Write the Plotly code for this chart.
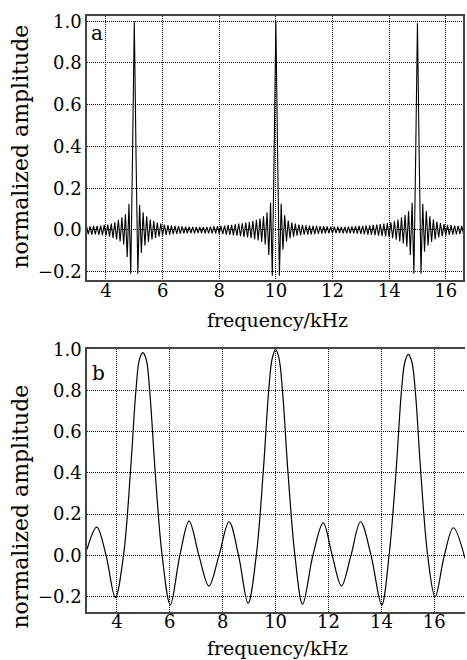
import plotly.graph_objects as go

# ---------------- panel a : sampled spectrum (frequency in kHz) ----------------
freq_a = [
    3.3125, 3.375, 3.4375, 3.5, 3.5625, 3.625, 3.6875, 3.75, 3.8125, 3.875, 3.9375,
    4.0, 4.0625, 4.125, 4.1875, 4.25, 4.3125, 4.375, 4.4375, 4.5, 4.5625, 4.625, 4.6875, 4.75, 4.8125, 4.875, 4.9375,
    5.0, 5.0625, 5.125, 5.1875, 5.25, 5.3125, 5.375, 5.4375, 5.5, 5.5625, 5.625, 5.6875, 5.75, 5.8125, 5.875, 5.9375,
    6.0, 6.0625, 6.125, 6.1875, 6.25, 6.3125, 6.375, 6.4375, 6.5, 6.5625, 6.625, 6.6875, 6.75, 6.8125, 6.875, 6.9375,
    7.0, 7.0625, 7.125, 7.1875, 7.25, 7.3125, 7.375, 7.4375, 7.5, 7.5625, 7.625, 7.6875, 7.75, 7.8125, 7.875, 7.9375,
    8.0, 8.0625, 8.125, 8.1875, 8.25, 8.3125, 8.375, 8.4375, 8.5, 8.5625, 8.625, 8.6875, 8.75, 8.8125, 8.875, 8.9375,
    9.0, 9.0625, 9.125, 9.1875, 9.25, 9.3125, 9.375, 9.4375, 9.5, 9.5625, 9.625, 9.6875, 9.75, 9.8125, 9.875, 9.9375,
    10.0, 10.0625, 10.125, 10.1875, 10.25, 10.3125, 10.375, 10.4375, 10.5, 10.5625, 10.625, 10.6875, 10.75, 10.8125, 10.875, 10.9375,
    11.0, 11.0625, 11.125, 11.1875, 11.25, 11.3125, 11.375, 11.4375, 11.5, 11.5625, 11.625, 11.6875, 11.75, 11.8125, 11.875, 11.9375,
    12.0, 12.0625, 12.125, 12.1875, 12.25, 12.3125, 12.375, 12.4375, 12.5, 12.5625, 12.625, 12.6875, 12.75, 12.8125, 12.875, 12.9375,
    13.0, 13.0625, 13.125, 13.1875, 13.25, 13.3125, 13.375, 13.4375, 13.5, 13.5625, 13.625, 13.6875, 13.75, 13.8125, 13.875, 13.9375,
    14.0, 14.0625, 14.125, 14.1875, 14.25, 14.3125, 14.375, 14.4375, 14.5, 14.5625, 14.625, 14.6875, 14.75, 14.8125, 14.875, 14.9375,
    15.0, 15.0625, 15.125, 15.1875, 15.25, 15.3125, 15.375, 15.4375, 15.5, 15.5625, 15.625, 15.6875, 15.75, 15.8125, 15.875, 15.9375,
    16.0, 16.0625, 16.125, 16.1875, 16.25, 16.3125, 16.375, 16.4375, 16.5, 16.5625, 16.625,
]
amp_a = [
    0.018, -0.020, 0.017, -0.022, 0.019, -0.021, 0.020, -0.024, 0.021, -0.025, 0.024,
    -0.028, 0.026, -0.032, 0.030, -0.038, 0.036, -0.045, 0.048, -0.055, 0.060, -0.070, 0.075, -0.130, 0.125, -0.210, 0.350,
    1.000, 0.350, -0.210, 0.120, -0.110, 0.085, -0.075, 0.065, -0.058, 0.050, -0.046, 0.042, -0.038, 0.035, -0.032, 0.030,
    -0.028, 0.026, -0.025, 0.023, -0.022, 0.021, -0.020, 0.019, -0.019, 0.018, -0.018, 0.017, -0.017, 0.016, -0.016, 0.016,
    -0.015, 0.015, -0.016, 0.014, -0.015, 0.014, -0.015, 0.015, -0.016, 0.015, -0.016, 0.016, -0.017, 0.017, -0.018, 0.018,
    -0.019, 0.019, -0.020, 0.021, -0.022, 0.023, -0.024, 0.025, -0.026, 0.027, -0.028, 0.030, -0.030, 0.032, -0.033, 0.035,
    -0.036, 0.038, -0.040, 0.043, -0.045, 0.048, -0.050, 0.055, -0.058, 0.065, -0.070, 0.085, -0.120, 0.130, -0.220, 0.350,
    1.000, 0.350, -0.220, 0.125, -0.095, 0.070, -0.055, 0.045, -0.040, 0.035, -0.032, 0.030, -0.028, 0.026, -0.025, 0.024,
    -0.023, 0.022, -0.022, 0.021, -0.021, 0.020, -0.020, 0.019, -0.019, 0.018, -0.018, 0.018, -0.017, 0.017, -0.017, 0.016,
    -0.016, 0.016, -0.015, 0.016, -0.015, 0.015, -0.016, 0.015, -0.016, 0.016, -0.016, 0.017, -0.017, 0.018, -0.018, 0.019,
    -0.019, 0.020, -0.020, 0.021, -0.022, 0.022, -0.023, 0.024, -0.025, 0.026, -0.027, 0.028, -0.029, 0.030, -0.031, 0.033,
    -0.035, 0.037, -0.040, 0.043, -0.047, 0.050, -0.055, 0.060, -0.065, 0.072, -0.080, 0.090, -0.120, 0.130, -0.210, 0.350,
    0.990, 0.350, -0.210, 0.125, -0.105, 0.090, -0.075, 0.065, -0.058, 0.050, -0.045, 0.040, -0.036, 0.033, -0.030, 0.028,
    -0.027, 0.025, -0.024, 0.023, -0.022, 0.021, -0.021, 0.020, -0.020, 0.019, -0.019,
]

# ---------------- panel b : smooth spectrum (key points of the curve) ----------------
freq_b = [2.87, 3.24, 3.59, 3.94, 4.25, 4.51, 4.72, 4.85, 4.98, 5.11, 5.24, 5.45, 5.71,
          6.02, 6.38, 6.73, 7.10, 7.48, 7.86, 8.24, 8.60, 8.96,
          9.27, 9.53, 9.74, 9.87, 10.00, 10.13, 10.26, 10.47, 10.73,
          11.02, 11.41, 11.80, 12.14, 12.49, 12.85, 13.21, 13.61, 14.01,
          14.29, 14.55, 14.76, 14.89, 15.02, 15.15, 15.28, 15.49, 15.75,
          16.03, 16.38, 16.72, 17.16]
amp_b = [0.029, 0.137, 0.0, -0.205, 0.0, 0.4, 0.8, 0.95, 0.984, 0.95, 0.8, 0.4, 0.0,
         -0.240, 0.0, 0.166, 0.0, -0.149, 0.0, 0.163, 0.0, -0.232,
         0.0, 0.4, 0.8, 0.955, 1.0, 0.955, 0.8, 0.4, 0.0,
         -0.237, 0.0, 0.158, 0.0, -0.149, 0.0, 0.163, 0.0, -0.241,
         0.0, 0.4, 0.8, 0.94, 0.976, 0.94, 0.8, 0.4, 0.0,
         -0.202, 0.0, 0.134, -0.015]

x_ticks = [4, 6, 8, 10, 12, 14, 16]
y_ticks = [-0.2, 0.0, 0.2, 0.4, 0.6, 0.8, 1.0]
x_title = "frequency/kHz"
y_title = "normalized amplitude"
panel_labels = ["a", "b"]

FONT = "DejaVu Serif"
fig = go.Figure()
fig.add_trace(go.Scatter(x=freq_a, y=amp_a, mode="lines", xaxis="x", yaxis="y",
                         line=dict(color="black", width=1.1), showlegend=False, hoverinfo="skip"))
fig.add_trace(go.Scatter(x=freq_b, y=amp_b, mode="lines", xaxis="x2", yaxis="y2",
                         line=dict(color="black", width=1.2, shape="spline", smoothing=1),
                         showlegend=False, hoverinfo="skip"))

common = dict(showline=True, linecolor="#444", linewidth=1.5, showgrid=True,
              gridcolor="#111", gridwidth=1, griddash="1px,1px", zeroline=False,
              ticks="", tickfont=dict(family=FONT, size=18, color="black"))

fig.update_layout(
    width=467, height=660, margin=dict(l=87, r=0, t=16, b=48),
    paper_bgcolor="white", plot_bgcolor="white",
    font=dict(family=FONT, color="black"),
    xaxis=dict(domain=[0, 0.9903], range=[3.33, 16.62], tickvals=x_ticks, anchor="y", mirror=True,
               ticklabelstandoff=-6, **common),
    yaxis=dict(domain=[0.557, 1], range=[-0.24, 1.025], tickvals=y_ticks, tickformat=".1f", anchor="x", mirror=True, **common),
    xaxis2=dict(domain=[0, 0.9947], range=[2.87, 17.16], tickvals=x_ticks, anchor="y2", mirror=True,
                ticklabelstandoff=-7, **common),
    yaxis2=dict(domain=[0, 0.441], range=[-0.275, 1.001], tickvals=y_ticks, tickformat=".1f", anchor="x2", mirror=False, **common),
    annotations=[
        dict(text=x_title, xref="paper", yref="paper", x=0.5026, y=0.4899, showarrow=False,
             font=dict(family=FONT, size=19, color="black"), xanchor="center", yanchor="middle"),
        dict(text=x_title, xref="paper", yref="paper", x=0.5026, y=-0.0604, showarrow=False,
             font=dict(family=FONT, size=19, color="black"), xanchor="center", yanchor="middle"),
        dict(text=y_title, xref="paper", yref="paper", x=-0.175, y=0.780, showarrow=False, textangle=-90,
             font=dict(family=FONT, size=22, color="black"), xanchor="center", yanchor="middle"),
        dict(text=y_title, xref="paper", yref="paper", x=-0.175, y=0.176, showarrow=False, textangle=-90,
             font=dict(family=FONT, size=22, color="black"), xanchor="center", yanchor="middle"),
        dict(text=panel_labels[0], xref="paper", yref="paper", x=0.027, y=0.971, showarrow=False,
             font=dict(family=FONT, size=20, color="black"), xanchor="center", yanchor="middle"),
        dict(text=panel_labels[1], xref="paper", yref="paper", x=0.030, y=0.401, showarrow=False,
             font=dict(family=FONT, size=20, color="black"), xanchor="center", yanchor="middle"),
    ],
)

fig.write_html("out.html")
